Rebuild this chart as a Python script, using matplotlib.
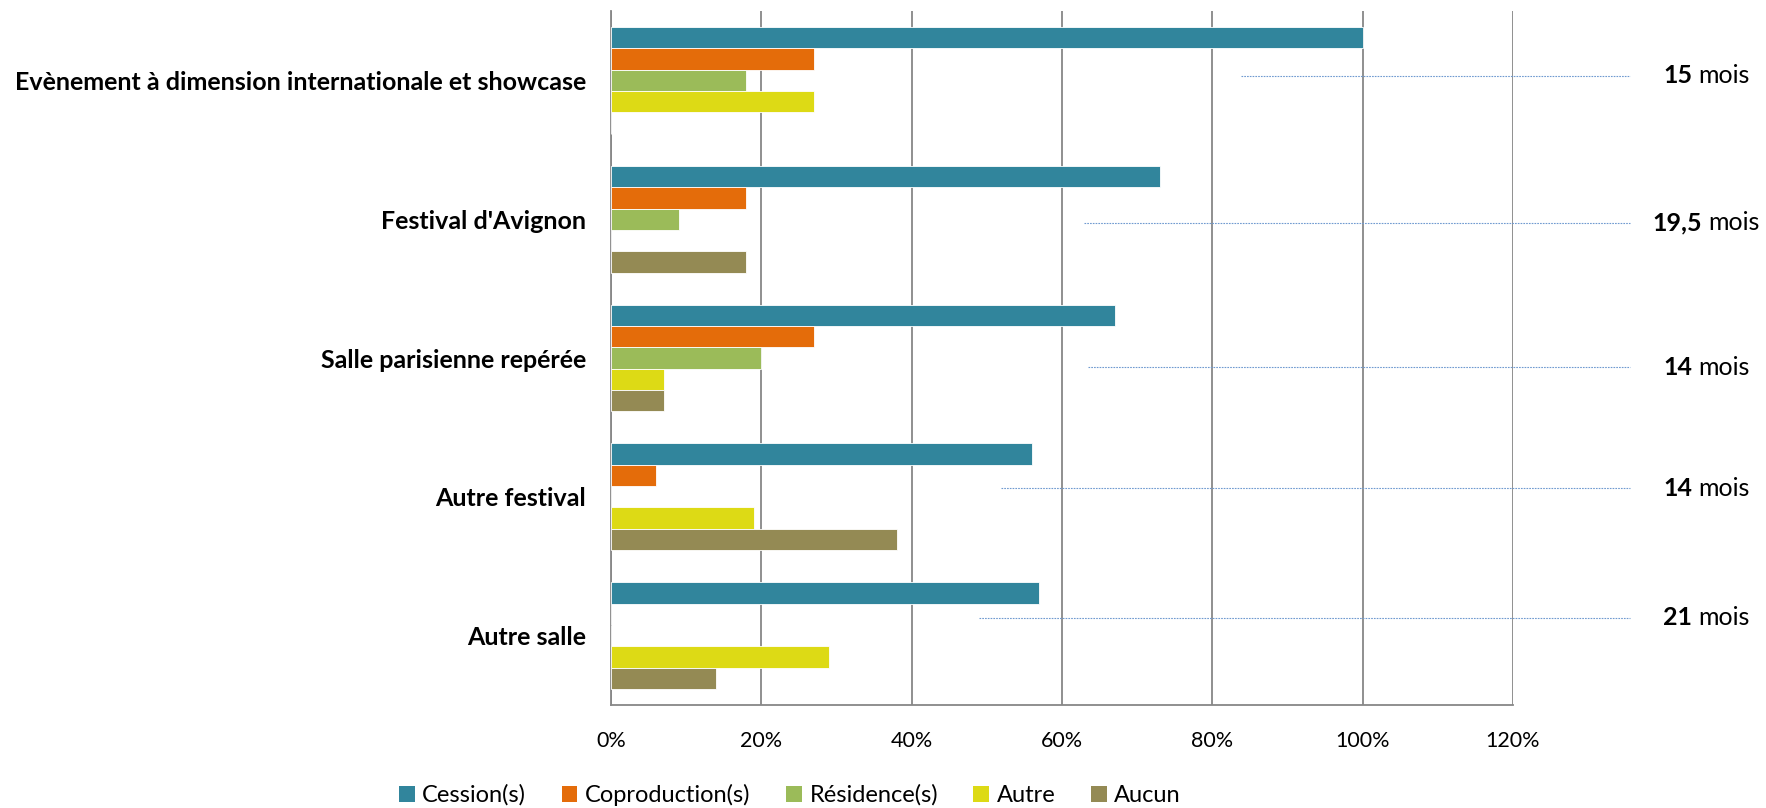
import matplotlib
matplotlib.use("Agg")
import matplotlib.pyplot as plt
from matplotlib.patches import Patch
from matplotlib.offsetbox import TextArea, HPacker, AnnotationBbox
import numpy as np

plt.rcParams['font.family'] = ['Lato', 'DejaVu Sans']

categories = ["Evènement à dimension internationale et showcase",
              "Festival d'Avignon",
              "Salle parisienne repérée",
              "Autre festival",
              "Autre salle"]
series_names = ["Cession(s)", "Coproduction(s)", "Résidence(s)", "Autre", "Aucun"]
cession = [1.00, 0.73, 0.67, 0.56, 0.57]
coproduction = [0.27, 0.18, 0.27, 0.06, 0.00]
residence = [0.18, 0.09, 0.20, 0.00, 0.00]
autre = [0.27, 0.00, 0.07, 0.19, 0.29]
aucun = [0.00, 0.18, 0.07, 0.38, 0.14]
durees_num = ["15", "19,5", "14", "14", "21"]
duree_unit = "mois"
xticks = [0, 0.2, 0.4, 0.6, 0.8, 1.0, 1.2]
xtick_labels = ["0%", "20%", "40%", "60%", "80%", "100%", "120%"]

# annotation leader lines (start x in data units, y positions)
note_line_start = [0.838, 0.629, 0.635, 0.519, 0.49]
note_y = [-0.035, 1.025, 2.065, 2.94, 3.87]

colors = ["#31859C", "#E46C0A", "#9BBB59", "#DDDA15", "#948A54"]
series = [cession, coproduction, residence, autre, aucun]

fig = plt.figure(figsize=(17.66, 8.08), dpi=100)
ax = fig.add_axes([611/1766, 1 - 705/808, (1513 - 611)/1766, (705 - 11)/808])

y = np.arange(len(categories))
h = 0.8 / 5.2
for i, (vals, c) in enumerate(zip(series, colors)):
    ax.barh(y + (i - 2) * h, vals, height=h, color=c, edgecolor="white",
            linewidth=0.6, zorder=3)

ax.set_xlim(0, 1.2)
ax.set_ylim(len(categories) - 0.5, -0.5)
ax.set_xticks(xticks)
ax.set_xticklabels(xtick_labels)
ax.set_yticks(y)
ax.set_yticklabels(categories, fontweight="bold")
ax.tick_params(axis="x", length=0, pad=19, labelsize=15.5)
ax.tick_params(axis="y", length=0, pad=18, labelsize=18)
ax.grid(axis="x", color="#878787", linewidth=1.3, zorder=0)
ax.set_axisbelow(True)
for s in ["top", "right"]:
    ax.spines[s].set_visible(False)
for s in ["left", "bottom"]:
    ax.spines[s].set_color("#878787")
    ax.spines[s].set_linewidth(1.3)

# leader lines and duration notes
for xs, yy, num in zip(note_line_start, note_y, durees_num):
    ax.plot([xs, 1.356], [yy, yy], color="#6F9AD0", linewidth=0.8,
            linestyle=(0, (1.5, 1)), clip_on=False, zorder=4)
    box = HPacker(children=[TextArea(num, textprops=dict(fontsize=18, fontweight="bold", color="black")),
                            TextArea(duree_unit, textprops=dict(fontsize=18, color="black"))],
                  align="baseline", pad=0, sep=4)
    ab = AnnotationBbox(box, (1.457, yy), xycoords="data", frameon=False,
                        box_alignment=(0.5, 0.5), annotation_clip=False)
    ax.add_artist(ab)

handles = [Patch(facecolor=c, edgecolor="none") for c in colors]
fig.legend(handles, series_names, loc="center", bbox_to_anchor=(790/1766, 1 - 795/808),
           ncol=5, frameon=False, fontsize=17, handlelength=0.66, handleheight=0.66,
           handletextpad=0.33, columnspacing=1.5)

fig.savefig("out.png", dpi=100)
